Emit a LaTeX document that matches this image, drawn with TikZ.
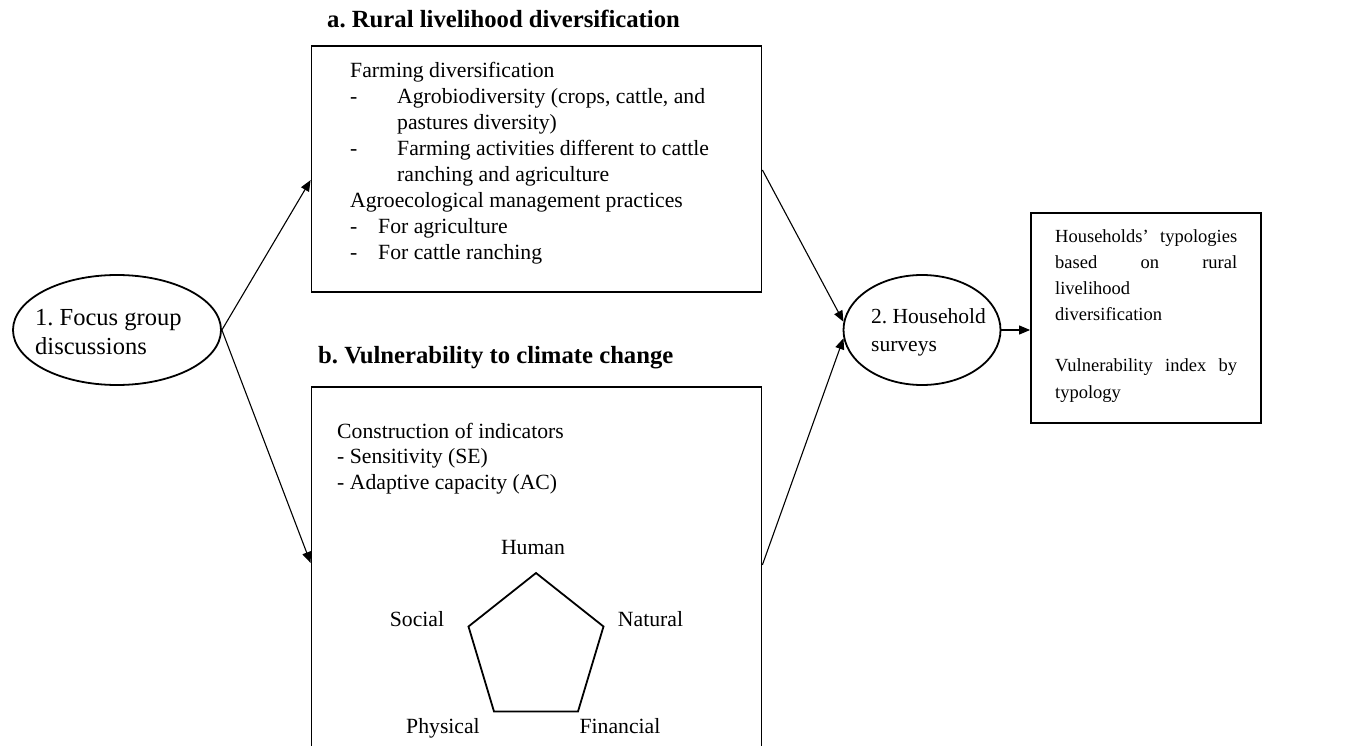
\documentclass[tikz,border=0pt]{standalone}
\usepackage{fontspec}
\setmainfont{Liberation Serif}
\frenchspacing
\usetikzlibrary{arrows.meta,calc,shapes.geometric}
\begin{document}
\begin{tikzpicture}[x=1pt,y=-1pt,
  frame/.style={draw, line width=1.8pt, rectangle, inner sep=0pt},
  oval/.style={draw, line width=1.8pt, ellipse, inner sep=0pt},
  conn/.style={line width=1.1pt, -{Triangle[length=11pt,width=9pt]}},
  body/.style={inner sep=0pt, anchor=base west, font=\fontsize{21.7}{25.9}\selectfont},
  small/.style={inner sep=0pt, anchor=base west, font=\fontsize{18.5}{26}\selectfont},
  heading/.style={inner sep=0pt, anchor=base west, font=\fontsize{24.7}{28}\selectfont\bfseries},
  ovaltext/.style={inner sep=0pt, anchor=base west},
  pentlabel/.style={inner sep=0pt, anchor=base, font=\fontsize{21.7}{25.9}\selectfont}]
\useasboundingbox (0,0) rectangle (1357,746);
\clip (0,0) rectangle (1357,746);

% titles
\node[heading] (ta) at (327,28) {a. Rural livelihood diversification};
\node[heading] (tb) at (318,363) {b. Vulnerability to climate change};

% boxes
\node[frame, minimum width=450pt, minimum height=246pt] (boxa) at (536.5,169) {};
\node[frame, minimum width=450pt, minimum height=386pt] (boxb) at (536.5,580) {};
\node[frame, minimum width=230pt, minimum height=210pt] (boxc) at (1146,318) {};

% ellipses
\node[oval, minimum width=208pt, minimum height=110pt] (e1) at (117,330) {};
\node[oval, minimum width=157pt, minimum height=110pt] (e2) at (922,330) {};

\node[ovaltext, font=\fontsize{24.5}{29.5}\selectfont] (e1t) at (35,325)
  {\parbox[t]{170pt}{1. Focus group\\discussions}};
\node[ovaltext, font=\fontsize{21.5}{28.5}\selectfont] (e2t) at (871,323)
  {\parbox[t]{125pt}{2. Household\\surveys}};

% box a text
\node[body] (tatext) at (350,78) {\parbox[t]{405pt}{%
Farming diversification\\
\makebox[47pt][l]{-}Agrobiodiversity (crops, cattle, and\\
\hspace*{47pt}pastures diversity)\\
\makebox[47pt][l]{-}Farming activities different to cattle\\
\hspace*{47pt}ranching and agriculture\\
Agroecological management practices\\
\makebox[28pt][l]{-}For agriculture\\
\makebox[28pt][l]{-}For cattle ranching}};

% box b text
\node[body] (tbtext) at (337,438) {\parbox[t]{400pt}{%
Construction of indicators\\
- Sensitivity (SE)\\
- Adaptive capacity (AC)}};

% box c text
\node[small] (tctext) at (1055,242) {\parbox[t]{182pt}{%
\hbox to 182pt{Households’\hfill typologies}
\hbox to 182pt{based\hfill on\hfill rural}
\hbox to 182pt{livelihood\hfill}
\hbox to 182pt{diversification\hfill}
\hbox to 182pt{\strut\hfill}
\hbox to 182pt{Vulnerability\hfill index\hfill by}
\hbox to 182pt{typology\hfill}}};

% pentagon
\draw[line width=1.8pt, line join=miter]
  (536,573) -- (603.5,626.5) -- (578,711.5) -- (494,711.5) -- (468.5,626.5) -- cycle;
\node[pentlabel] (lh) at (533,554) {Human};
\node[pentlabel] (ls) at (417,626) {Social};
\node[pentlabel] (ln) at (650.5,626) {Natural};
\node[pentlabel] (lp) at (443,733) {Physical};
\node[pentlabel] (lf) at (620,733) {Financial};

% connectors
\draw[conn] (e1.east) -- ($(boxa.north west)!0.545!(boxa.south west)$);
\draw[conn] (e1.east) -- ($(boxb.north west)!0.456!(boxb.south west)$);
\draw[conn] ($(boxa.north east)!0.504!(boxa.south east)$) -- (e2.174);
\draw[conn] ($(boxb.north east)!0.461!(boxb.south east)$) -- (e2.186);
\draw[conn] (e2.east) -- (e2.east -| boxc.west);
\end{tikzpicture}
\end{document}
